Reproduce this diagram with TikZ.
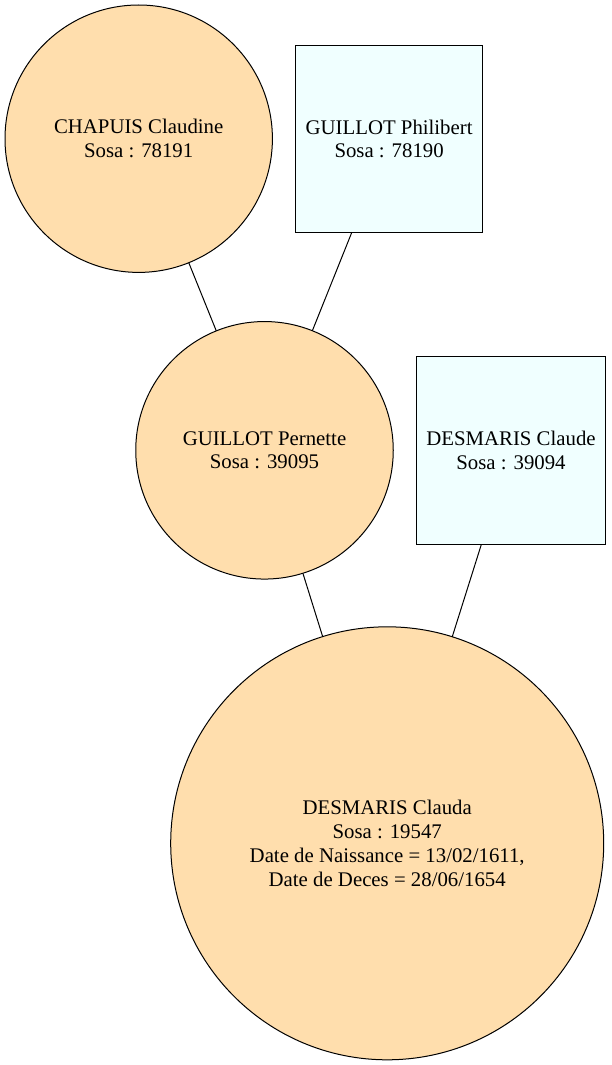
\documentclass[tikz,border=0pt]{standalone}
\usepackage{fontspec}
\setmainfont{Liberation Serif}
\definecolor{navaj}{HTML}{FFDEAD}
\definecolor{azur}{HTML}{F0FFFF}
\begin{document}
\begin{tikzpicture}[x=1pt,y=-1pt,
  person/.style={draw=black,line width=1pt,inner sep=0pt,outer sep=0pt,align=center,
    font=\fontsize{20.8}{23.8}\selectfont},
  woman/.style={person,circle,fill=navaj},
  man/.style={person,rectangle,fill=azur},
  link/.style={draw=black,line width=1pt}]
\useasboundingbox (0,0) rectangle (611,1065);
\node[woman,minimum size=267.4pt] (c1) at (138.7,138.7) {CHAPUIS Claudine\\Sosa : 78191};
\node[man,minimum width=186.8pt,minimum height=186.6pt] (s1) at (389.1,139) {GUILLOT Philibert\\Sosa : 78190};
\node[woman,minimum size=257.5pt] (c2) at (264.5,450.3) {GUILLOT Pernette\\Sosa : 39095};
\node[man,minimum width=188.6pt,minimum height=188.3pt] (s2) at (511,450.2) {DESMARIS Claude\\Sosa : 39094};
\node[woman,minimum size=433pt] (c3) at (387.2,843.3) {DESMARIS Clauda\\Sosa : 19547\\Date de Naissance = 13/02/1611,\\Date de Deces = 28/06/1654};
\draw[link] (c1) -- (c2);
\draw[link] (s1) -- (c2);
\draw[link] (c2) -- (c3);
\draw[link] (s2) -- (c3);
\end{tikzpicture}
\end{document}
